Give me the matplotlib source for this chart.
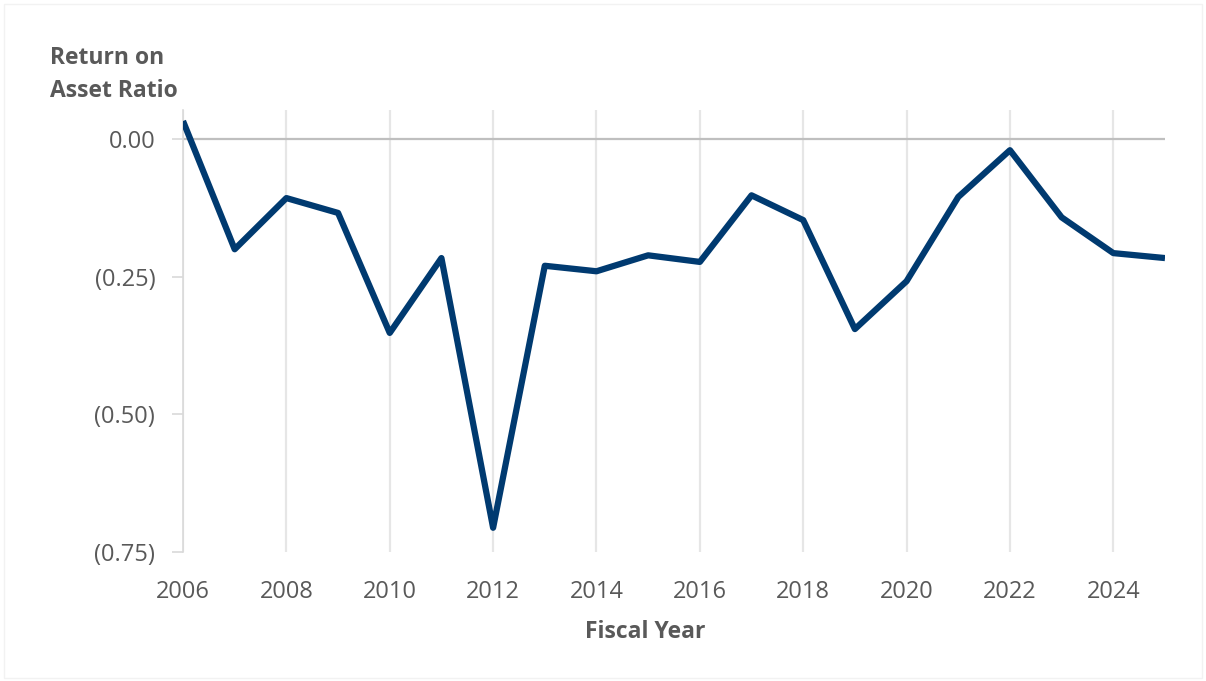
import numpy as np
import matplotlib.pyplot as plt
import matplotlib.ticker as mticker
from matplotlib.patches import Rectangle

plt.rcParams['font.family'] = ['Open Sans', 'DejaVu Sans']

years = list(range(2006, 2026))
roa = [0.033, -0.200, -0.107, -0.134, -0.352, -0.216, -0.706, -0.230, -0.240, -0.211,
       -0.223, -0.102, -0.147, -0.345, -0.258, -0.105, -0.020, -0.142, -0.207, -0.216]
yticks = [0.0, -0.25, -0.5, -0.75]
xticks = list(range(2006, 2026, 2))

txt = '#595959'
grid = '#e6e6e6'

def fmt(v, pos):
    if v < -1e-9:
        return '({:.2f})'.format(-v)
    return '{:.2f}'.format(abs(v))

fig = plt.figure(figsize=(12.06, 6.81), dpi=100)
fig.patches.append(Rectangle((0.003, 0.004), 0.994, 0.99, transform=fig.transFigure,
                             fill=False, edgecolor='#f2f2f2', linewidth=1))
ax = fig.add_axes([183/1206, 1-552/681, (1165-183)/1206, (552-110)/681])

ax.plot(years, roa, color='#003a70', linewidth=4.5, solid_joinstyle='round',
        solid_capstyle='butt', zorder=3)
ax.axhline(0, color='#bfbfbf', linewidth=1.6, zorder=2)

ax.set_xlim(2006, 2025)
ax.set_ylim(-0.75, 0.053)
ax.set_xticks(xticks)
ax.set_yticks(yticks)
ax.yaxis.set_major_formatter(mticker.FuncFormatter(fmt))
ax.grid(axis='x', color=grid, linewidth=1.6)

for s in ['top', 'right', 'bottom']:
    ax.spines[s].set_visible(False)
ax.spines['left'].set_color('#d9d9d9')
ax.spines['left'].set_linewidth(1.2)

ax.tick_params(axis='x', length=0, pad=20, labelsize=17, labelcolor=txt)
ax.tick_params(axis='y', length=8, width=1.2, color='#d9d9d9', pad=12, labelsize=17, labelcolor=txt)

fig.text(50/1206, 1-46/681, 'Return on\nAsset Ratio', ha='left', va='top',
         fontsize=16.5, fontweight='bold', color=txt, linespacing=1.5)
fig.text(645/1206, 1-632/681, 'Fiscal Year', ha='center', va='center',
         fontsize=16.5, fontweight='bold', color=txt)

fig.savefig('out.png', dpi=100)
